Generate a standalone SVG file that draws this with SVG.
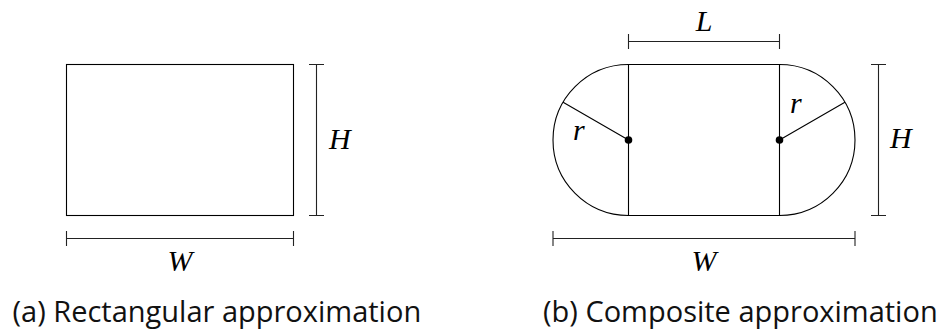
<svg xmlns="http://www.w3.org/2000/svg" width="940" height="331" viewBox="0 0 940 331">
<style>
.ln{fill:none;stroke:#000;stroke-width:1.1}
.dim{fill:none;stroke:#222;stroke-width:1.1}
.m{font-family:"Liberation Serif","Times New Roman",serif;font-style:italic;font-size:30px;fill:#000}
.cap{font-family:"Open Sans","Noto Sans",sans-serif;font-size:29px;fill:#111}
</style>
<rect width="940" height="331" fill="#fff"/>
<g id="rect-a">
<rect class="ln" x="66.5" y="64.5" width="227" height="151"/>
</g>
<g id="dims-a">
<path class="dim" d="M316.5,64.5V215.5M309,64.5H324M309,215.5H324"/>
<path class="dim" d="M66.5,238.5H293.5M66.5,231V246M293.5,231V246"/>
<text class="m" x="329" y="149">H</text>
<text class="m" x="180" y="271" text-anchor="middle">W</text>
</g>
<g id="capsule-b">
<path class="ln" d="M628.5,64.5H779.5A75.5,75.5 0 0 1 779.5,215.5H628.5A75.5,75.5 0 0 1 628.5,64.5Z"/>
<path class="ln" d="M628.5,64.5V215.5M779.5,64.5V215.5"/>
<path class="ln" d="M628.5,140L563.1,102.25M779.5,140L844.9,102.25"/>
<circle cx="628.5" cy="140" r="3.8" fill="#000"/>
<circle cx="779.5" cy="140" r="3.8" fill="#000"/>
<text class="m" x="573" y="140">r</text>
<text class="m" x="790" y="113">r</text>
</g>
<g id="dims-b">
<path class="dim" d="M628.5,41.5H779.5M628.5,34V49M779.5,34V49"/>
<path class="dim" d="M878.5,64.5V215.5M871,64.5H886M871,215.5H886"/>
<path class="dim" d="M553,238.5H855M553,231V246M855,231V246"/>
<text class="m" x="704" y="31" text-anchor="middle">L</text>
<text class="m" x="890" y="148">H</text>
<text class="m" x="704" y="271" text-anchor="middle">W</text>
</g>
<g id="captions">
<text class="cap" x="12.5" y="322">(a) Rectangular approximation</text>
<text class="cap" x="543" y="322">(b) Composite approximation</text>
</g>
</svg>
